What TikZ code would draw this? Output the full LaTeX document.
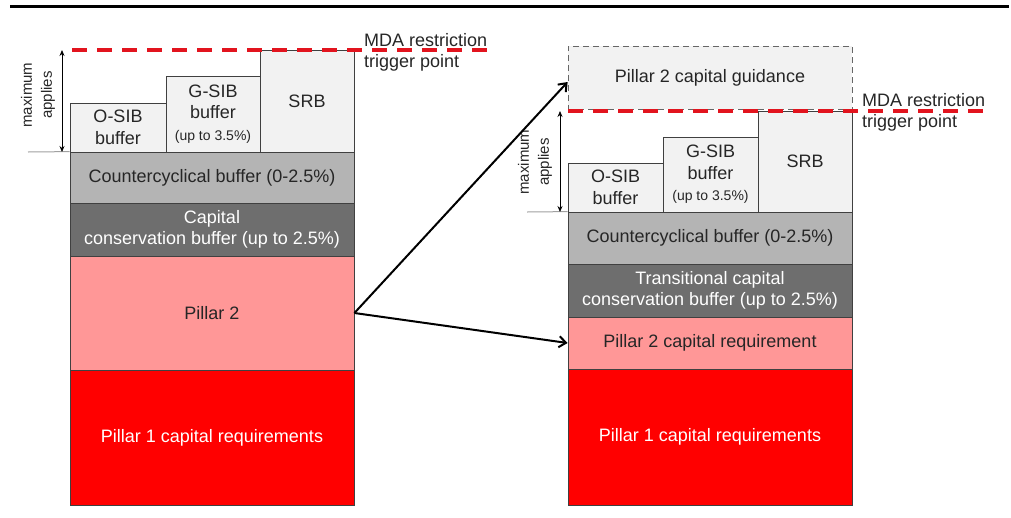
\documentclass[tikz,border=0pt]{standalone}
\usepackage{fontspec}
\setmainfont{Liberation Sans}
\usetikzlibrary{arrows.meta,calc}
\definecolor{edge}{HTML}{404040}
\definecolor{lightfill}{HTML}{F2F2F2}
\definecolor{ccbfill}{HTML}{B4B4B4}
\definecolor{ccfill}{HTML}{6E6E6E}
\definecolor{ptwofill}{HTML}{FF9797}
\definecolor{ponefill}{HTML}{FF0000}
\definecolor{mdared}{RGB}{226,20,30}
\definecolor{txt}{HTML}{262626}
\definecolor{baseline}{HTML}{A0A0A0}
\newcommand{\upto}{{\fontsize{14}{16}\selectfont (up to 3.5\%)}}
\begin{document}
\begin{tikzpicture}[x=1pt,y=-1pt,
  blk/.style={draw=edge, line width=0.8pt, inner sep=0pt, align=center,
    font=\fontsize{18}{21.5}\selectfont, text=txt},
  lightbox/.style={blk, fill=lightfill},
  ccbbox/.style={blk, fill=ccbfill, minimum width=284pt},
  ccbox/.style={blk, fill=ccfill, text=white, minimum width=284pt},
  ptwobox/.style={blk, fill=ptwofill, minimum width=284pt},
  ponebox/.style={blk, fill=ponefill, draw=black!75, text=white, minimum width=284pt},
  guidebox/.style={blk, fill=lightfill, draw=black!60, dashed, dash pattern=on 6pt off 4pt},
  rottxt/.style={rotate=90, align=center, font=\fontsize{15}{20}\selectfont, text=txt, inner sep=0pt},
  mdatxt/.style={anchor=west, align=left, font=\fontsize{18}{21}\selectfont, text=txt, inner sep=0pt},
  mdaline/.style={draw=mdared, line width=3.5pt, dash pattern=on 15pt off 10pt},
  maxarrow/.style={draw=black, line width=0.8pt, {Stealth[length=6pt,width=5pt]}-{Stealth[length=6pt,width=5pt]}},
  baseln/.style={draw=baseline, line width=1pt},
  linkarrow/.style={draw=black, line width=2pt, -{Straight Barb[length=7pt,width=11pt]}}
]
\useasboundingbox (0,0) rectangle (1011,517);

% top rule
\coordinate (ruleL) at (10,6.5);
\coordinate (ruleR) at (1009,6.5);
\draw[line width=3pt] (ruleL) -- (ruleR);

% ---------- left stack ----------
\node[lightbox, minimum width=96pt, minimum height=49pt] (osibL) at (118,127.5) {O-SIB\\buffer};
\node[lightbox, minimum width=94pt, minimum height=76pt] (gsibL) at (213,114) {G-SIB\\buffer\\\upto};
\node[lightbox, minimum width=94pt, minimum height=102pt] (srbL) at (307,101) {SRB};
\node[ccbbox, minimum height=51pt] (ccbL) at (212,177.5) {Countercyclical buffer (0-2.5\%)};
\node[ccbox, minimum height=53pt] (consL) at (212,229.5) {Capital\\conservation buffer (up to 2.5\%)};
\node[ptwobox, minimum height=114pt] (ptwoL) at (212,313) {Pillar 2};
\node[ponebox, minimum height=135pt] (poneL) at (212,437.5) {Pillar 1 capital requirements};

\coordinate (mtL) at (62,50);
\coordinate (mbL) at (62,152);
\coordinate (blL) at (28,152);
\draw[baseln] (blL) -- (ccbL.north west);
\draw[maxarrow] (mtL) -- (mbL);
\node[rottxt] (maxL) at (38,95) {maximum\\applies};

\coordinate (mdaLa) at (72,50);
\coordinate (mdaLb) at (490,50);
\draw[mdaline] (mdaLa) -- (mdaLb);
\node[mdatxt] (mdaL) at (364,52) {MDA restriction\\trigger point};

% ---------- right stack ----------
\node[guidebox, minimum width=284pt, minimum height=63pt] (guide) at (710,77.5) {Pillar 2 capital guidance};
\node[lightbox, minimum width=95pt, minimum height=49pt] (osibR) at (615.5,187.5) {O-SIB\\buffer};
\node[lightbox, minimum width=95pt, minimum height=75pt] (gsibR) at (710.5,174.5) {G-SIB\\buffer\\\upto};
\node[lightbox, minimum width=94pt, minimum height=101pt] (srbR) at (805,161.5) {SRB};
\node[ccbbox, minimum height=52pt] (ccbR) at (710,238) {Countercyclical buffer (0-2.5\%)};
\node[ccbox, minimum height=53pt] (consR) at (710,290.5) {Transitional capital\\conservation buffer (up to 2.5\%)};
\node[ptwobox, minimum height=52pt] (ptwoR) at (710,343) {Pillar 2 capital requirement};
\node[ponebox, minimum height=136pt] (poneR) at (710,437) {Pillar 1 capital requirements};

\coordinate (mtR) at (560,111);
\coordinate (mbR) at (560,212);
\coordinate (blR) at (527,212);
\draw[baseln] (blR) -- (ccbR.north west);
\draw[maxarrow] (mtR) -- (mbR);
\node[rottxt] (maxR) at (535,162) {maximum\\applies};

\coordinate (mdaRa) at (568,111);
\coordinate (mdaRb) at (990,111);
\draw[mdaline] (mdaRa) -- (mdaRb);
\node[mdatxt] (mdaR) at (862,112) {MDA restriction\\trigger point};

% ---------- connectors ----------
\draw[linkarrow] (ptwoL.east) -- ($(guide.west)+(0,4.5)$);
\draw[linkarrow] (ptwoL.east) -- (ptwoR.west);
\end{tikzpicture}
\end{document}
